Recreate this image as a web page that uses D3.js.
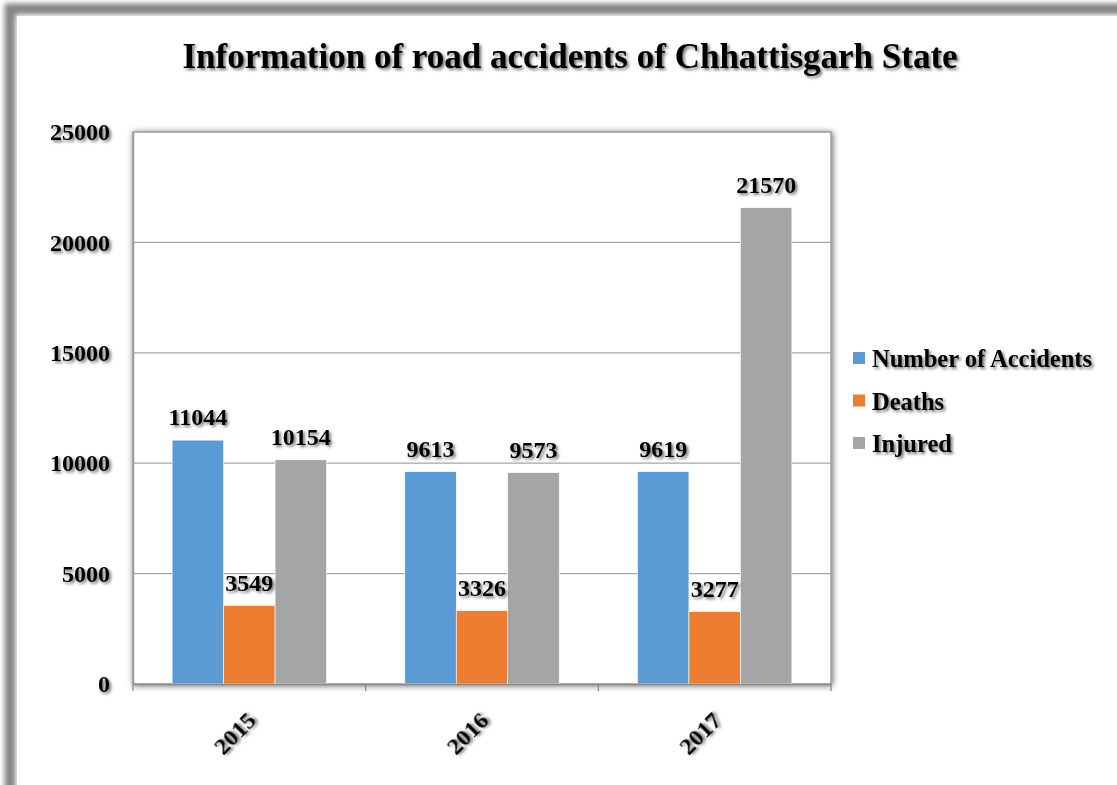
<!DOCTYPE html>
<html>
<head>
<meta charset="utf-8">
<script src="https://cdn.jsdelivr.net/npm/d3@7"></script>
<style>
  body { margin: 0; background: #fff; }
  text { font-family: "Liberation Serif", "Times New Roman", serif; font-weight: bold; fill: #000; }
</style>
</head>
<body>
<svg width="1117" height="785"></svg>
<script>
// chart values
var years = ["2015", "2016", "2017"]
var series = ["Number of Accidents", "Deaths", "Injured"]
var accidents = [11044, 9613, 9619]
var deaths = [3549, 3326, 3277]
var injured = [10154, 9573, 21570]
var yTicks = [0, 5000, 10000, 15000, 20000, 25000]
var colors = ["#5b9bd5", "#ed7d31", "#a5a5a5"]

var svg = d3.select("svg"),
	width = +svg.attr("width"),
	height = +svg.attr("height")

var table = years.map((y, i) => ({ year: y, values: [accidents[i], deaths[i], injured[i]] }))

var defs = svg.append("defs")

// soft shadow under text
var ts = defs.append("filter").attr("id", "tshadow").attr("x", "-20%").attr("y", "-40%").attr("width", "150%").attr("height", "200%")
ts.append("feDropShadow").attr("dx", 2).attr("dy", 2).attr("stdDeviation", 1.4)
	.attr("flood-color", "#000").attr("flood-opacity", 0.55)

// shadow round the boxes
var bs = defs.append("filter").attr("id", "bshadow").attr("x", "-10%").attr("y", "-10%").attr("width", "120%").attr("height", "120%")
bs.append("feDropShadow").attr("dx", 1).attr("dy", 1).attr("stdDeviation", 3)
	.attr("flood-color", "#000").attr("flood-opacity", 0.6)

var fs = defs.append("filter").attr("id", "fshadow").attr("x", "-5%").attr("y", "-5%").attr("width", "110%").attr("height", "110%")
fs.append("feGaussianBlur").attr("stdDeviation", 2.5)

// outer frame, runs off the right and bottom edges
svg.append("rect")
	.attr("x", 10).attr("y", 9).attr("width", 1200).attr("height", 900)
	.attr("fill", "none").attr("stroke", "#858585").attr("stroke-width", 11)
	.attr("filter", "url(#fshadow)")
svg.append("rect")
	.attr("x", 17).attr("y", 16).attr("width", 1200).attr("height", 900)
	.attr("fill", "#fff")

var margin = { left: 133, top: 132, right: 831, bottom: 684 }

var x0 = d3.scaleBand().domain(years).range([margin.left, margin.right]).padding(0)
var x1 = d3.scaleBand().domain(d3.range(series.length)).range([0, x0.bandwidth()]).paddingInner(0).paddingOuter(0.76)
var y = d3.scaleLinear().domain([0, 25000]).range([margin.bottom, margin.top])

// plot area
svg.append("rect")
	.attr("x", margin.left).attr("y", margin.top)
	.attr("width", margin.right - margin.left).attr("height", margin.bottom - margin.top)
	.attr("fill", "#fff").attr("stroke", "#9a9a9a").attr("stroke-width", 1.5)
	.attr("filter", "url(#bshadow)")

// gridlines
svg.append("g").selectAll("line").data(yTicks.slice(1, -1)).enter().append("line")
	.attr("x1", margin.left).attr("x2", margin.right)
	.attr("y1", d => y(d)).attr("y2", d => y(d))
	.attr("stroke", "#a6a6a6").attr("stroke-width", 1.3)

// bars
var groups = svg.append("g").selectAll("g").data(table).enter().append("g")
	.attr("transform", d => "translate(" + x0(d.year) + ",0)")

groups.selectAll("rect").data(d => d.values).enter().append("rect")
	.attr("x", (d, i) => x1(i))
	.attr("y", d => y(d))
	.attr("width", x1.bandwidth())
	.attr("height", d => y(0) - y(d))
	.attr("fill", (d, i) => colors[i])
	.attr("stroke", "#fff").attr("stroke-width", 0.6)

groups.selectAll("text").data(d => d.values).enter().append("text")
	.attr("x", (d, i) => x1(i) + x1.bandwidth() / 2)
	.attr("y", d => y(d) - 15)
	.attr("text-anchor", "middle")
	.style("font-size", "24px")
	.attr("filter", "url(#tshadow)")
	.text(d => d)

// y axis
var yAxis = svg.append("g")
	.attr("transform", "translate(" + margin.left + ",0)")
	.call(d3.axisLeft(y).tickValues(yTicks).tickFormat(d3.format("d")).tickSize(0).tickPadding(23))
yAxis.select(".domain").attr("stroke", "#9a9a9a").attr("stroke-width", 1.5)
yAxis.selectAll("text").style("font-size", "24px").attr("filter", "url(#tshadow)")

// x axis
var xAxis = svg.append("g")
	.attr("transform", "translate(0," + margin.bottom + ")")
	.call(d3.axisBottom(x0).tickSize(0).tickFormat(""))
xAxis.select(".domain").attr("stroke", "#8c8c8c").attr("stroke-width", 1.5)

// category boundary ticks
svg.append("g").selectAll("line").data(years.concat(["end"])).enter().append("line")
	.attr("x1", (d, i) => margin.left + i * x0.step())
	.attr("x2", (d, i) => margin.left + i * x0.step())
	.attr("y1", margin.bottom).attr("y2", margin.bottom + 7)
	.attr("stroke", "#8c8c8c").attr("stroke-width", 1.3)

svg.append("g").selectAll("text").data(years).enter().append("text")
	.attr("transform", d => "translate(" + (x0(d) + x0.bandwidth() / 2 + 8) + "," + (margin.bottom + 38) + ") rotate(-45)")
	.attr("text-anchor", "end")
	.style("font-size", "24px")
	.attr("filter", "url(#tshadow)")
	.text(d => d)

// title
svg.append("text")
	.attr("x", 570).attr("y", 68)
	.attr("text-anchor", "middle")
	.style("font-size", "35px")
	.attr("filter", "url(#tshadow)")
	.text("Information of road accidents of Chhattisgarh State")

// legend
var legend = svg.append("g").selectAll("g").data(series).enter().append("g")
	.attr("transform", (d, i) => "translate(853," + (352 + i * 42.5) + ")")
legend.append("rect").attr("width", 12).attr("height", 12).attr("fill", (d, i) => colors[i])
legend.append("text").attr("x", 19).attr("y", 15)
	.style("font-size", "24.5px")
	.attr("filter", "url(#tshadow)")
	.text(d => d)
</script>
</body>
</html>
